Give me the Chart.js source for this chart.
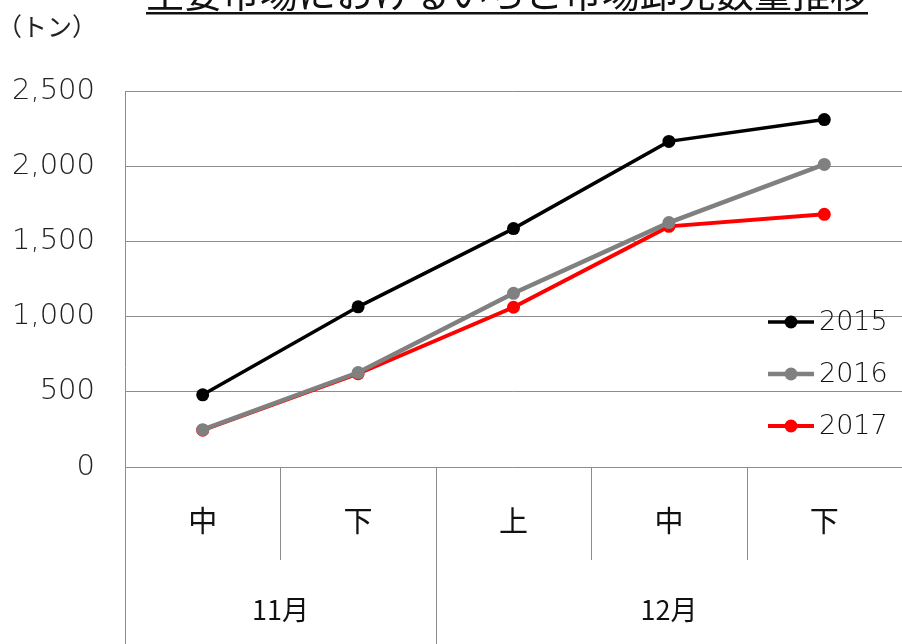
<!DOCTYPE html>
<html>
<head>
<meta charset="utf-8">
<script src="https://cdn.jsdelivr.net/npm/chart.js@4"></script>
<style>
  html, body { margin: 0; padding: 0; background: #fff; }
  #wrap { width: 902px; height: 644px; position: relative; }
</style>
</head>
<body>
<div id="wrap"><canvas id="myChart"></canvas></div>
<script>
// 旬別（中・下・上…）の卸売数量
const periods = ['中', '下', '上', '中', '下'];
const months = [
    { label: '11月', span: 2 },
    { label: '12月', span: 3 },
];
const years = ['2015', '2016', '2017'];
const qty2015 = [480, 1065, 1585, 2165, 2310];
const qty2016 = [248, 628, 1155, 1625, 2012];
const qty2017 = [245, 620, 1062, 1600, 1680];
const colors = ['#000000', '#808080', '#ff0000'];
const widths = [3.5, 4.5, 4];

const titleText = '主要市場におけるいちご市場卸売数量推移';
const unitText = '（トン）';
const numFont = "'DejaVu Sans', sans-serif";
const jpFont = "'Noto Sans CJK JP', sans-serif";

const ctx = document.getElementById('myChart').getContext('2d');

const data = {
    labels: periods,
    datasets: [qty2015, qty2016, qty2017].map((vals, i) => ({
        label: years[i],
        data: vals,
        borderColor: colors[i],
        backgroundColor: colors[i],
        borderWidth: widths[i],
        pointRadius: 6.5,
        pointHoverRadius: 6.5,
        pointBorderWidth: 0,
        tension: 0,
    })),
};

// タイトル・単位・凡例・2段の横軸ラベルを描く
const decorations = {
    id: 'decorations',
    afterDraw(chart) {
        const c = chart.ctx;
        const area = chart.chartArea;
        const x = chart.scales.x;
        c.save();

        // タイトル（上端で切れている）
        c.fillStyle = '#111';
        c.font = `38px ${jpFont}`;
        c.textAlign = 'center';
        c.textBaseline = 'alphabetic';
        c.fillText(titleText, 507, 7);
        const tw = c.measureText(titleText).width;
        c.fillRect(507 - tw / 2, 12, tw, 2.5);

        // 単位
        c.font = `25px ${jpFont}`;
        c.textAlign = 'left';
        c.textBaseline = 'middle';
        c.fillStyle = '#222';
        c.fillText(unitText, -3, 26);

        // 軸下の表
        const step = x.getPixelForValue(1) - x.getPixelForValue(0);
        const edge = i => x.getPixelForValue(i) - step / 2;
        c.strokeStyle = '#8c8c8c';
        c.lineWidth = 1;
        c.beginPath();
        c.moveTo(area.left + 0.5, area.top);
        c.lineTo(area.left + 0.5, chart.height);
        let idx = 0;
        const monthEdges = new Set();
        months.forEach(m => { idx += m.span; monthEdges.add(idx); });
        for (let i = 1; i < periods.length; i++) {
            const px = Math.round(edge(i)) + 0.5;
            c.moveTo(px, area.bottom);
            c.lineTo(px, monthEdges.has(i) ? chart.height : 560);
        }
        c.stroke();

        c.fillStyle = '#111';
        c.textAlign = 'center';
        c.font = `29px ${jpFont}`;
        periods.forEach((p, i) => c.fillText(p, x.getPixelForValue(i), 521));
        c.font = `27px ${jpFont}`;
        let start = 0;
        months.forEach(m => {
            const l = edge(start);
            const r = Math.min(edge(start + m.span), chart.width);
            c.fillText(m.label, (l + r) / 2, 610);
            start += m.span;
        });

        // 凡例
        c.font = `300 27px ${numFont}`;
        c.textAlign = 'left';
        chart.data.datasets.forEach((ds, i) => {
            const y = 322 + i * 52;
            c.strokeStyle = ds.borderColor;
            c.lineWidth = ds.borderWidth;
            c.beginPath();
            c.moveTo(768, y);
            c.lineTo(814, y);
            c.stroke();
            c.fillStyle = ds.borderColor;
            c.beginPath();
            c.arc(791, y, 6.5, 0, Math.PI * 2);
            c.fill();
            c.fillStyle = '#111';
            c.fillText(ds.label, 819, y + 1);
        });
        c.restore();
    },
};

const config = {
    type: 'line',
    data: data,
    options: {
        responsive: true,
        maintainAspectRatio: false,
        animation: false,
        layout: {
            autoPadding: false,
            padding: { top: 91, bottom: 177, left: 0, right: 0 },
        },
        plugins: {
            legend: { display: false },
            title: { display: false },
            tooltip: { enabled: false },
        },
        scales: {
            x: {
                type: 'category',
                offset: true,
                display: false,
            },
            y: {
                min: 0,
                max: 2500,
                afterFit: scale => { scale.width = 125; },
                ticks: {
                    stepSize: 500,
                    padding: 30,
                    color: '#222',
                    font: { family: numFont, size: 29, weight: 300 },
                },
                grid: {
                    color: '#8c8c8c',
                    drawTicks: false,
                },
                border: { display: false },
            },
        },
    },
    plugins: [decorations],
};

Chart.defaults.color = '#000';
const qtyChart = new Chart(ctx, config);
</script>
</body>
</html>
